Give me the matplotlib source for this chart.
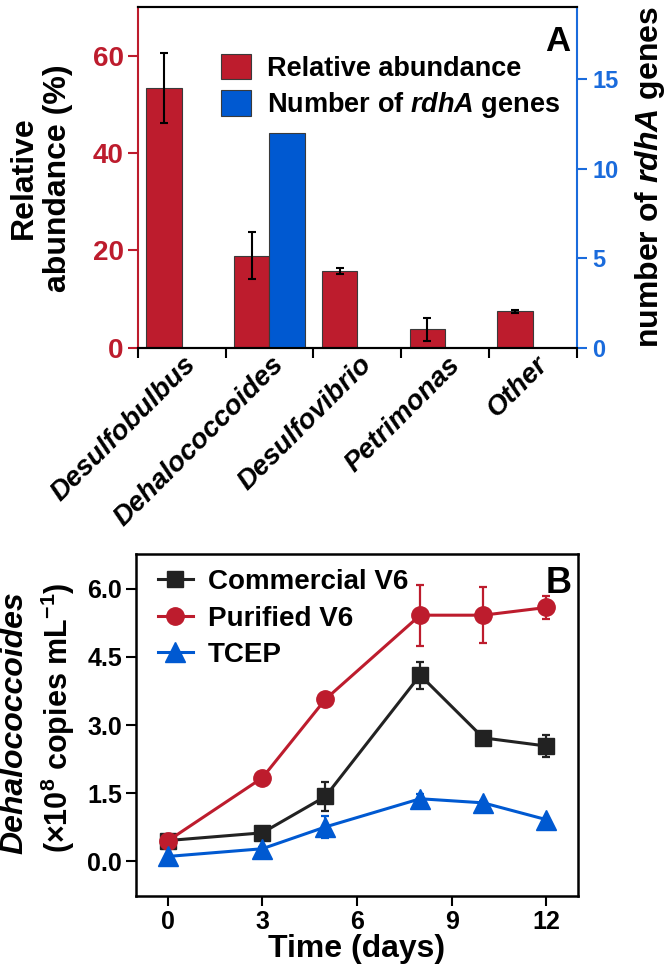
import numpy as np
import matplotlib
matplotlib.use('Agg')
import matplotlib.pyplot as plt
import matplotlib.transforms as mtransforms
from matplotlib.patches import Patch

plt.rcParams['font.family'] = ['Liberation Sans', 'DejaVu Sans']
plt.rcParams['font.weight'] = 'bold'
plt.rcParams['mathtext.fontset'] = 'custom'
plt.rcParams['mathtext.rm'] = 'Liberation Sans:bold'
plt.rcParams['mathtext.bf'] = 'Liberation Sans:bold'
plt.rcParams['mathtext.it'] = 'Liberation Sans:italic:bold'
plt.rcParams['mathtext.default'] = 'bf'

# panel A data
genera = ['Desulfobulbus', 'Dehalococcoides', 'Desulfovibrio', 'Petrimonas', 'Other']
abundance = [53.4, 18.9, 15.8, 3.8, 7.5]
abundance_err = [7.2, 4.8, 0.6, 2.4, 0.3]
rdha_genes = [0, 12, 0, 0, 0]

# panel B data
days = [0, 3, 5, 8, 10, 12]
commercial = [0.46, 0.63, 1.43, 4.10, 2.72, 2.54]
commercial_err = [0.05, 0.08, 0.32, 0.30, 0.10, 0.25]
purified = [0.45, 1.84, 3.57, 5.42, 5.42, 5.59]
purified_err = [0.05, 0.06, 0.06, 0.67, 0.61, 0.25]
tcep = [0.11, 0.28, 0.76, 1.38, 1.29, 0.92]
tcep_err = [0.03, 0.04, 0.25, 0.10, 0.05, 0.04]

red = '#BD1C2D'
blue = '#0059D1'
axblue = '#1A6BDC'
dark = '#222222'

fig = plt.figure(figsize=(6.66, 9.67), dpi=100)
W, H = 666.0, 967.0

# ---------------- panel A ----------------
ax = fig.add_axes([137.7 / W, 1 - 347.7 / H, 439.3 / W, 340.4 / H])
ax2 = ax.twinx()
x = np.arange(len(genera))
w = 0.406
ax.bar(x - w, abundance, w, align='edge', color=red, edgecolor='#3a3a3a', linewidth=0.8, zorder=2)
ax.errorbar(x - w / 2, abundance, yerr=abundance_err, fmt='none', ecolor='black',
            elinewidth=1.5, capsize=3, capthick=1.5, zorder=3)
ax2.bar(x, rdha_genes, w, align='edge', color=blue, edgecolor='#3a3a3a', linewidth=0.8)

ax.set_xlim(-0.5, 4.5)
ax.set_ylim(0, 70)
ax2.set_ylim(0, 19)
ax.set_yticks([0, 20, 40, 60])
ax2.set_yticks([0, 5, 10, 15])

ax.set_xticks(np.arange(-0.5, 5, 1))
ax.set_xticklabels([])
ax.set_xticks(x, minor=True)
ax.set_xticklabels(genera, minor=True, rotation=45, ha='right', style='italic',
                   fontsize=20, fontweight='bold')
ax.tick_params(axis='x', which='major', direction='out', length=7, width=1.5, color='black')
ax.tick_params(axis='x', which='minor', length=0, pad=3)
off = mtransforms.ScaledTranslation(0.20, 0, fig.dpi_scale_trans)
for lab in ax.get_xticklabels(minor=True):
    lab.set_transform(lab.get_transform() + off)

ax.tick_params(axis='y', direction='out', length=7, width=1.5, colors=red, labelsize=20, pad=3)
ax2.tick_params(axis='y', direction='out', length=7, width=1.5, colors=axblue, labelsize=17, pad=4)
for s in ['top', 'bottom']:
    ax.spines[s].set_linewidth(1.5)
    ax2.spines[s].set_linewidth(1.5)
ax.spines['left'].set_color(red)
ax.spines['left'].set_linewidth(1.5)
ax2.spines['left'].set_visible(False)
ax.spines['right'].set_visible(False)
ax2.spines['right'].set_color(axblue)
ax2.spines['right'].set_linewidth(1.5)

handles = [Patch(facecolor=red, edgecolor='#3a3a3a', linewidth=0.8),
           Patch(facecolor=blue, edgecolor='#3a3a3a', linewidth=0.8)]
ax2.legend(handles, ['Relative abundance', r'Number of $\mathit{rdhA}$ genes'],
           loc='upper left', bbox_to_anchor=(0.19, 0.862), frameon=False, fontsize=19.5,
           handlelength=1.1, handleheight=1.05, handletextpad=0.6, labelspacing=0.3,
           borderpad=0, borderaxespad=0)
ax2.text(0.985, 0.948, 'A', transform=ax.transAxes, ha='right', va='top', fontsize=25,
         fontweight='bold')

fig.text(41 / W, 1 - 178 / H, 'Relative\nabundance (%)', rotation=90, ha='center', va='center',
         fontsize=23, fontweight='bold', linespacing=1.15)
fig.text(650 / W, 1 - 177 / H, r'number of $\mathit{rdhA}$ genes', rotation=90, ha='center',
         va='center', fontsize=23, fontweight='bold')

# ---------------- panel B ----------------
bx = fig.add_axes([136 / W, 1 - 896 / H, 442 / W, 341.7 / H])
c1 = bx.errorbar(days, commercial, yerr=commercial_err, color=dark, marker='s', markersize=12,
                 linewidth=2.2, elinewidth=1.6, capsize=3, capthick=1.6)
c2 = bx.errorbar(days, purified, yerr=purified_err, color=red, marker='o', markersize=12.5,
                 linewidth=2.2, elinewidth=1.6, capsize=3, capthick=1.6)
c3 = bx.errorbar(days, tcep, yerr=tcep_err, color=blue, marker='^', markersize=14,
                 linewidth=2.2, elinewidth=1.6, capsize=3, capthick=1.6)
bx.set_xlim(-1, 13)
bx.set_ylim(-0.76, 6.76)
bx.set_xticks([0, 3, 6, 9, 12])
bx.set_yticks([0, 1.5, 3.0, 4.5, 6.0])
bx.set_yticklabels(['0.0', '1.5', '3.0', '4.5', '6.0'])
bx.tick_params(direction='out', length=7, width=1.5, labelsize=18, pad=3)
for s in bx.spines.values():
    s.set_linewidth(1.8)
bx.set_xlabel('Time (days)', fontsize=23, fontweight='bold', labelpad=0)
bx.legend([c1[0], c2[0], c3[0]], ['Commercial V6', 'Purified V6', 'TCEP'],
          loc='upper left', bbox_to_anchor=(0.05, 0.957), frameon=False, fontsize=20,
          handlelength=1.25, handletextpad=0.55, labelspacing=0.38, borderpad=0, borderaxespad=0)
bx.text(0.985, 0.965, 'B', transform=bx.transAxes, ha='right', va='top', fontsize=26,
        fontweight='bold')

fig.text(14 / W, 1 - 723 / H, 'Dehalococcoides', rotation=90, ha='center', va='center',
         fontsize=23, fontweight='bold', style='italic')
fig.text(58 / W, 1 - 718 / H, r'(×10$^{8}$ copies mL$^{-1}$)', rotation=90, ha='center',
         va='center', fontsize=22, fontweight='bold')

fig.savefig('out.png', dpi=100)
